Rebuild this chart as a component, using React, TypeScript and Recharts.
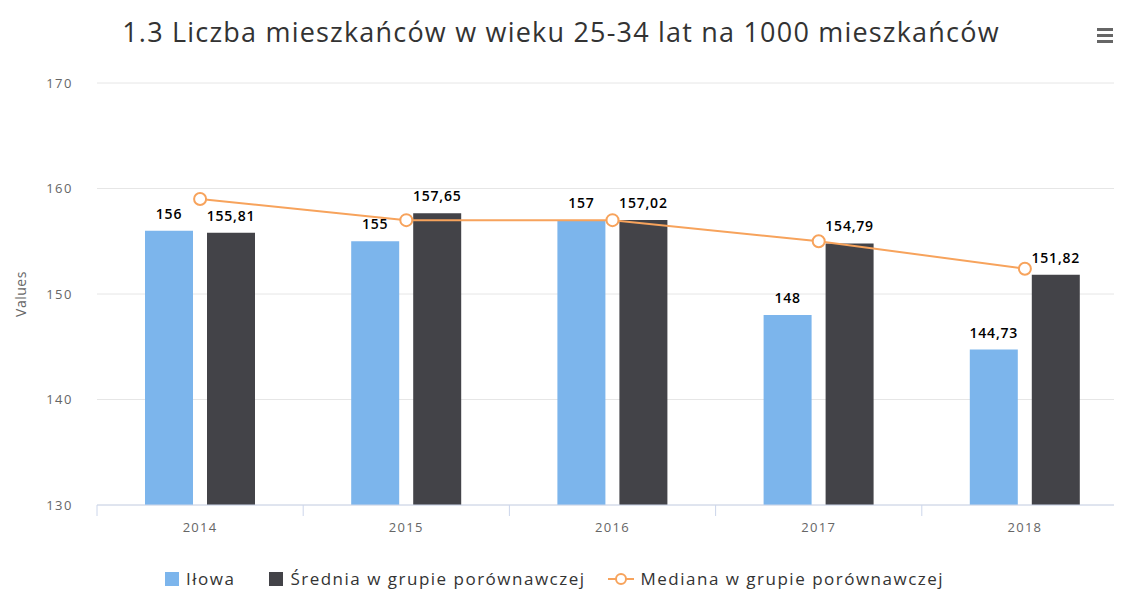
import {
  ComposedChart,
  Bar,
  Line,
  XAxis,
  YAxis,
  CartesianGrid,
  LabelList,
} from 'recharts'

const years = ['2014', '2015', '2016', '2017', '2018']
const ilowa = [156, 155, 157, 148, 144.73]
const srednia = [155.81, 157.65, 157.02, 154.79, 151.82]
const mediana = [159, 157, 157, 155, 152.4]
const yTicks = [130, 140, 150, 160, 170]

const BLUE = '#7cb5ec'
const DARK = '#434348'
const ORANGE = '#f7a35c'
const FONT = '"Open Sans", sans-serif'

const chartData = years.map((year, i) => ({
  year,
  ilowa: ilowa[i],
  srednia: srednia[i],
  mediana: mediana[i],
}))

// plot spans 97 -> 1128, so each category is ~206px wide
const BAND = (1128 - 97) / years.length
const AXIS_Y = 505

const fmt = (v: any) => String(v).replace('.', ',')

function XTick(props: any) {
  const { x, payload } = props
  const left = x - BAND / 2
  return (
    <g>
      <line x1={left} y1={AXIS_Y} x2={left} y2={AXIS_Y + 11} stroke="#ccd6eb" />
      <text
        x={x}
        y={AXIS_Y + 27}
        textAnchor="middle"
        fill="#666"
        fontSize={13}
        letterSpacing={1.3}
        fontFamily={FONT}
      >
        {payload.value}
      </text>
    </g>
  )
}

function ChartLegend() {
  const text = {
    fontSize: 17,
    letterSpacing: 1.5,
    color: '#333',
    fontFamily: FONT,
    lineHeight: '22px',
  }
  const row = { display: 'flex', alignItems: 'center' }
  return (
    <div
      style={{
        position: 'absolute',
        top: 568,
        left: 165,
        display: 'flex',
        alignItems: 'center',
        zIndex: 2,
      }}
    >
      <div style={{ ...row, marginRight: 34 }}>
        <div style={{ width: 14, height: 14, background: BLUE, marginRight: 7 }} />
        <span style={text}>Iłowa</span>
      </div>
      <div style={{ ...row, marginRight: 22 }}>
        <div style={{ width: 14, height: 14, background: DARK, marginRight: 7 }} />
        <span style={text}>Średnia w grupie porównawczej</span>
      </div>
      <div style={row}>
        <svg width={26} height={14} style={{ marginRight: 7 }}>
          <line x1={0} y1={7} x2={26} y2={7} stroke={ORANGE} strokeWidth={2} />
          <circle cx={13} cy={7} r={5} fill="#fff" stroke={ORANGE} strokeWidth={2} />
        </svg>
        <span style={text}>Mediana w grupie porównawczej</span>
      </div>
    </div>
  )
}

export default function App() {
  return (
    <div
      style={{
        position: 'relative',
        width: 1122,
        height: 593,
        margin: '-8px -8px 0 -8px',
        overflow: 'hidden',
        background: '#fff',
        fontFamily: FONT,
      }}
    >
      <div
        style={{
          position: 'absolute',
          top: 13,
          left: 0,
          width: 1122,
          textAlign: 'center',
          fontSize: 27,
          letterSpacing: 1.2,
          color: '#333',
          zIndex: 2,
        }}
      >
        1.3 Liczba mieszkańców w wieku 25-34 lat na 1000 mieszkańców
      </div>
      <div style={{ position: 'absolute', left: 1097, top: 28, zIndex: 2 }}>
        {[0, 6, 12].map((t) => (
          <div
            key={t}
            style={{
              position: 'absolute',
              top: t,
              width: 16,
              height: 3,
              background: '#666',
            }}
          />
        ))}
      </div>
      <div
        style={{
          position: 'absolute',
          left: 6,
          top: 294,
          transform: 'translate(-50%, -50%) rotate(-90deg)',
          marginLeft: 14,
          fontSize: 14,
          letterSpacing: 0.5,
          color: '#666',
          zIndex: 2,
        }}
      >
        Values
      </div>
      <ChartLegend />
      <ComposedChart
        width={1150}
        height={593}
        data={chartData}
        margin={{ top: 83, right: 22, left: 0, bottom: 58 }}
        barGap={14}
      >
        <CartesianGrid vertical={false} stroke="#e6e6e6" />
        <XAxis
          dataKey="year"
          height={30}
          axisLine={{ stroke: '#ccd6eb' }}
          tickLine={false}
          tickSize={0}
          tick={<XTick />}
          interval={0}
        />
        <YAxis
          width={97}
          domain={[130, 170]}
          ticks={yTicks}
          allowDataOverflow
          axisLine={false}
          tickLine={false}
          tickSize={0}
          tickMargin={24}
          tick={{ fill: '#666', fontSize: 13, letterSpacing: 1.5, fontFamily: FONT }}
        />
        <Bar dataKey="ilowa" name="Iłowa" fill={BLUE} barSize={48} isAnimationActive={false}>
          <LabelList
            dataKey="ilowa"
            position="top"
            offset={12}
            formatter={fmt}
            style={{
              fill: '#000',
              fontSize: 14,
              fontWeight: 600,
              letterSpacing: 0.8,
              fontFamily: FONT,
            }}
          />
        </Bar>
        <Bar
          dataKey="srednia"
          name="Średnia w grupie porównawczej"
          fill={DARK}
          barSize={48}
          isAnimationActive={false}
        >
          <LabelList
            dataKey="srednia"
            position="top"
            offset={12}
            formatter={fmt}
            style={{
              fill: '#000',
              fontSize: 14,
              fontWeight: 600,
              letterSpacing: 0.8,
              fontFamily: FONT,
            }}
          />
        </Bar>
        <Line
          dataKey="mediana"
          name="Mediana w grupie porównawczej"
          type="linear"
          stroke={ORANGE}
          strokeWidth={2}
          dot={{ r: 6, fill: '#fff', stroke: ORANGE, strokeWidth: 2 }}
          isAnimationActive={false}
        />
      </ComposedChart>
    </div>
  )
}
